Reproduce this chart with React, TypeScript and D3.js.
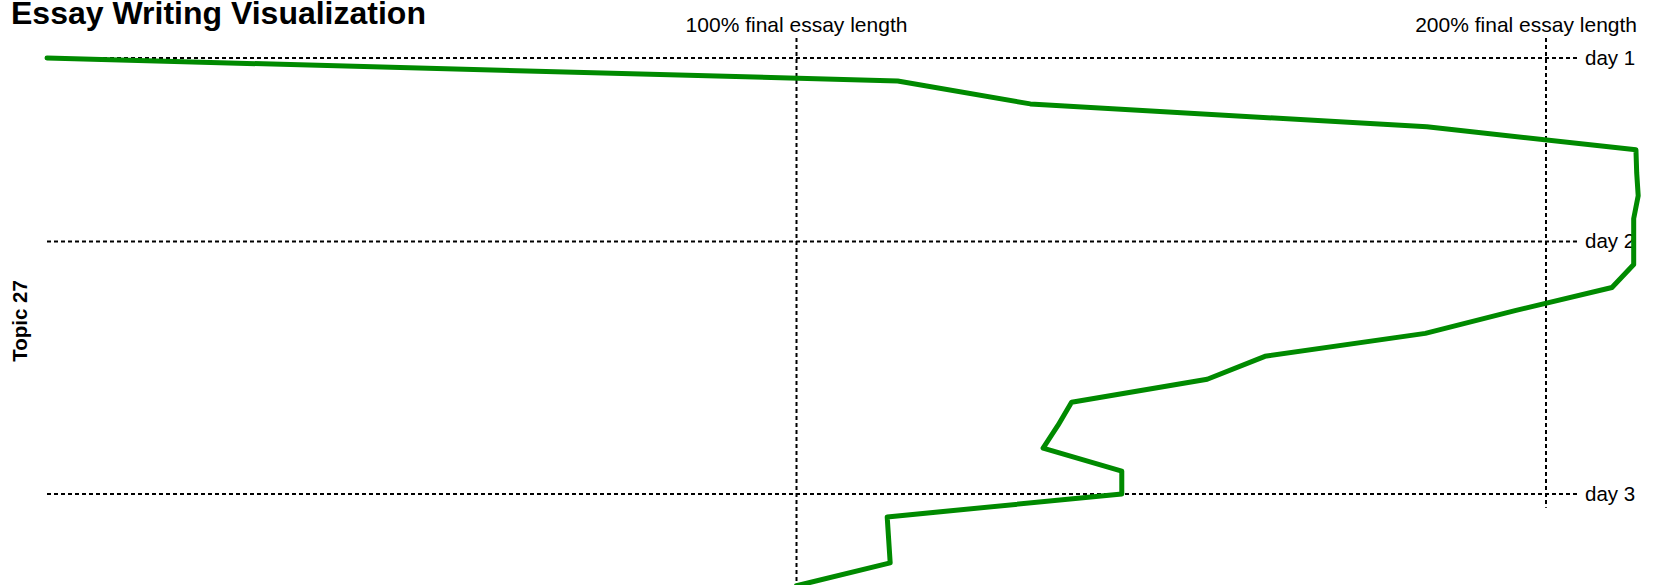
import React from "react";
import * as d3 from "d3";

// ---- data ----
const title = "Essay Writing Visualization";
const topicLabel = "Topic 27";
// revision index (time order) vs. ratio of current length to final essay length
const revisionIndex = [0, 1, 2, 3, 4, 5, 6, 7, 8, 9, 10, 11, 12, 13, 14, 15, 16, 17, 18, 19, 20, 21, 22, 23];
const lengthRatio = [
  0.0, 1.135, 1.312, 1.841, 2.12, 2.121, 2.123, 2.117, 2.117, 2.117, 2.088, 1.96,
  1.839, 1.625, 1.548, 1.367, 1.349, 1.329, 1.434, 1.434, 1.121, 1.123, 1.125, 1.0,
];
const dayLabels = ["day 1", "day 2", "day 3"];
const dayIndex = [0, 8, 19];
const refRatios = [1, 2];
const refLabels = ["100% final essay length", "200% final essay length"];

const W = 1658;
const H = 585;

export default function App() {
  const x = d3.scaleLinear().domain([0, 2]).range([47, 1546]);
  const y = d3.scaleLinear().domain([0, 19]).range([58, 494]);
  const pts = revisionIndex.map((i, k) => [lengthRatio[k], i] as [number, number]);
  const line = d3
    .line<[number, number]>()
    .x((d) => x(d[0]))
    .y((d) => y(d[1]));

  const font = "'Liberation Sans', Arial, Helvetica, sans-serif";
  const vEnds = [y(25), y(19.6)];
  const labelAnchor = ["middle", "end"];
  const labelX = [x(1), 1637];

  return (
    <div style={{ position: "absolute", left: 0, top: 0, width: W, height: H, overflow: "hidden" }}>
      <svg width={W} height={H} style={{ display: "block", fontFamily: font }}>
        <text x={11} y={23.5} fontSize={32} fontWeight="bold" fill="#000">
          {title}
        </text>
        <text
          transform={`translate(27, ${321}) rotate(-90)`}
          textAnchor="middle"
          fontSize={20.5}
          fontWeight="bold"
          fill="#000"
        >
          {topicLabel}
        </text>
        {dayIndex.map((d, i) => (
          <g key={"day" + i}>
            <line
              x1={x(0)}
              x2={1578}
              y1={y(d)}
              y2={y(d)}
              stroke="#000"
              strokeWidth={2}
              strokeDasharray="4,3"
            />
            <text x={1585} y={y(d)} dy="0.32em" fontSize={20.5} fill="#000">
              {dayLabels[i]}
            </text>
          </g>
        ))}
        {refRatios.map((r, i) => (
          <g key={"ref" + i}>
            <line
              x1={x(r)}
              x2={x(r)}
              y1={38}
              y2={vEnds[i]}
              stroke="#000"
              strokeWidth={2}
              strokeDasharray="4,3"
            />
            <text x={labelX[i]} y={31.5} textAnchor={labelAnchor[i]} fontSize={21} fill="#000">
              {refLabels[i]}
            </text>
          </g>
        ))}
        <path
          d={line(pts) || ""}
          fill="none"
          stroke="#008a00"
          strokeWidth={5}
          strokeLinejoin="round"
          strokeLinecap="round"
        />
      </svg>
    </div>
  );
}
